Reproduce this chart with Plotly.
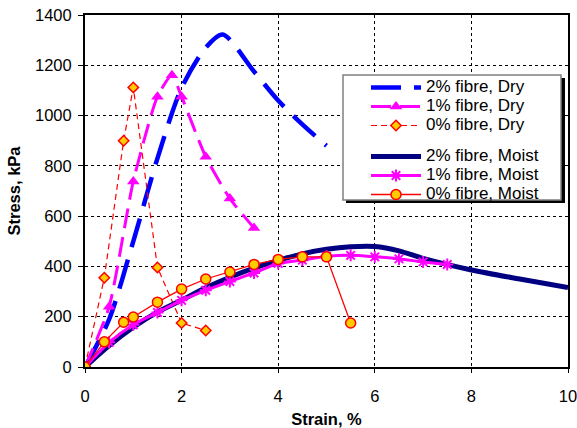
import plotly.graph_objects as go

# ---- data (strain %, stress kPa) ----
dry2_x = [0, 0.5, 1.0, 1.5, 2.0, 2.5, 2.85, 3.5, 4.0, 4.5, 5.0]
dry2_y = [0, 190, 500, 830, 1110, 1270, 1322, 1175, 1060, 965, 880]

dry1_x = [0, 0.5, 1.0, 1.5, 1.8, 2.0, 2.5, 3.0, 3.5]
dry1_y = [0, 240, 738, 1075, 1160, 1075, 836, 670, 553]

dry0_x = [0, 0.4, 0.8, 1.0, 1.5, 2.0, 2.5]
dry0_y = [0, 355, 900, 1112, 396, 175, 145]

moist2_x = [0, 0.5, 1.0, 1.5, 2.0, 2.5, 3.0, 3.5, 4.0, 4.5, 5.0, 5.5, 6.0, 6.5, 7.0, 8.0, 9.0, 10.0]
moist2_y = [0, 85, 158, 218, 266, 315, 357, 393, 424, 450, 468, 478, 479, 462, 432, 386, 350, 316]

moist1_x = [0, 0.5, 1.0, 1.5, 2.0, 2.5, 3.0, 3.5, 4.0, 4.5, 5.0, 5.5, 6.0, 6.5, 7.0, 7.5]
moist1_y = [0, 98, 168, 217, 265, 305, 340, 374, 412, 425, 440, 444, 438, 430, 418, 408]

moist0_x = [0, 0.4, 0.8, 1.0, 1.5, 2.0, 2.5, 3.0, 3.5, 4.0, 4.5, 5.0, 5.5]
moist0_y = [0, 100, 178, 199, 258, 310, 350, 378, 408, 428, 438, 438, 175]

series_names = ["2% fibre, Dry", "1% fibre, Dry", "0% fibre, Dry",
                "2% fibre, Moist", "1% fibre, Moist", "0% fibre, Moist"]

x_ticks = [0, 2, 4, 6, 8, 10]
y_ticks = [0, 200, 400, 600, 800, 1000, 1200, 1400]

ORANGE = "#FFCC00"
FONT = "Liberation Sans, Arial, sans-serif"


def lname(s):
    return '<span style="font-size:17px">' + s + "</span>"


fig = go.Figure()

fig.add_trace(go.Scatter(
    x=dry2_x, y=dry2_y, name=lname(series_names[0]), mode="lines", legendgroup="dry",
    line=dict(color="#0000FF", width=4.5, dash="30px,13px", shape="spline", smoothing=0.8)))
fig.add_trace(go.Scatter(
    x=dry1_x, y=dry1_y, name=lname(series_names[1]), mode="lines+markers", legendgroup="dry",
    line=dict(color="#FF00FF", width=3, dash="20px,9px", shape="spline", smoothing=0.6),
    marker=dict(symbol="triangle-up", size=11, color="#FF00FF")))
fig.add_trace(go.Scatter(
    x=dry0_x, y=dry0_y, name=lname(series_names[2]), mode="lines+markers", legendgroup="dry",
    line=dict(color="#FF0000", width=1.2, dash="6px,4px"),
    marker=dict(symbol="diamond", size=8, color=ORANGE, line=dict(color="#FF0000", width=1.5))))
fig.add_trace(go.Scatter(
    x=moist2_x, y=moist2_y, name=lname(series_names[3]), mode="lines", legendgroup="moist",
    line=dict(color="#000080", width=5, shape="spline", smoothing=0.8)))
fig.add_trace(go.Scatter(
    x=moist1_x, y=moist1_y, name=lname(series_names[4]), mode="lines+markers", legendgroup="moist",
    line=dict(color="#FF00FF", width=3, shape="spline", smoothing=0.6),
    marker=dict(symbol="asterisk-open", size=10, color="#FF00FF", line=dict(color="#FF00FF", width=2))))
fig.add_trace(go.Scatter(
    x=moist0_x, y=moist0_y, name=lname(series_names[5]), mode="lines+markers", legendgroup="moist",
    line=dict(color="#FF0000", width=1.3),
    marker=dict(symbol="circle", size=10, color=ORANGE, line=dict(color="#FF0000", width=1.5))))

# body margin removed below, so the figure occupies the whole 577x428 window
W, H = 577, 428
# plot area in screen px: x 85..568, y 15..367
L, R, T, B = 85, 577 - 568, 15, 428 - 367
pw, ph = W - L - R, H - T - B


def px(xs):
    return (xs - L) / pw


def py(ys):
    return (H - B - ys) / ph


shapes = [
    dict(type="rect", xref="paper", yref="paper", x0=px(346), x1=px(565), y0=py(203), y1=py(78),
         fillcolor="black", line=dict(width=0), layer="above"),
    dict(type="rect", xref="paper", yref="paper", x0=px(343), x1=px(561), y0=py(200), y1=py(75),
         fillcolor="white", line=dict(color="#808080", width=1.5), layer="above"),
]

fig.update_layout(
    width=W, height=H,
    margin=dict(l=L, r=R, t=T, b=B, pad=0, autoexpand=False),
    paper_bgcolor="white", plot_bgcolor="white",
    font=dict(family=FONT, size=16, color="black"),
    shapes=shapes,
    showlegend=True,
    hovermode=False,
    legend=dict(
        x=px(366), y=py(73), xanchor="left", yanchor="top",
        bgcolor="rgba(0,0,0,0)", borderwidth=0,
        font=dict(family=FONT, size=12, color="black"),
        tracegroupgap=12, itemwidth=50, traceorder="grouped",
    ),
    xaxis=dict(
        range=[0, 10], tickvals=x_ticks, ticktext=[str(v) for v in x_ticks],
        showgrid=True, gridcolor="black", griddash="dot", gridwidth=1,
        showline=True, linecolor="black", linewidth=2, mirror=True,
        ticks="outside", ticklen=4, tickcolor="black", automargin=False,
        zeroline=False, tickfont=dict(size=16.5), ticklabelstandoff=9,
        ticklabeloverflow="allow",
        title=dict(text="<b>Strain, %</b>", font=dict(family=FONT, size=16.5), standoff=16),
    ),
    yaxis=dict(
        range=[0, 1400], tickvals=y_ticks, ticktext=[str(v) for v in y_ticks],
        showgrid=True, gridcolor="black", griddash="dot", gridwidth=1,
        showline=True, linecolor="black", linewidth=2, mirror=True,
        ticks="outside", ticklen=5, tickcolor="black", automargin=False,
        zeroline=False, tickfont=dict(size=16.5), ticklabelstandoff=3,
        ticklabeloverflow="allow",
        title=dict(text="<b>Stress, kPa</b>", font=dict(family=FONT, size=16.5), standoff=10),
    ),
)

fig.write_html(
    "out.html",
    config={"displayModeBar": False},
    post_script="document.body.style.margin='0px';document.body.style.overflow='hidden';",
)
